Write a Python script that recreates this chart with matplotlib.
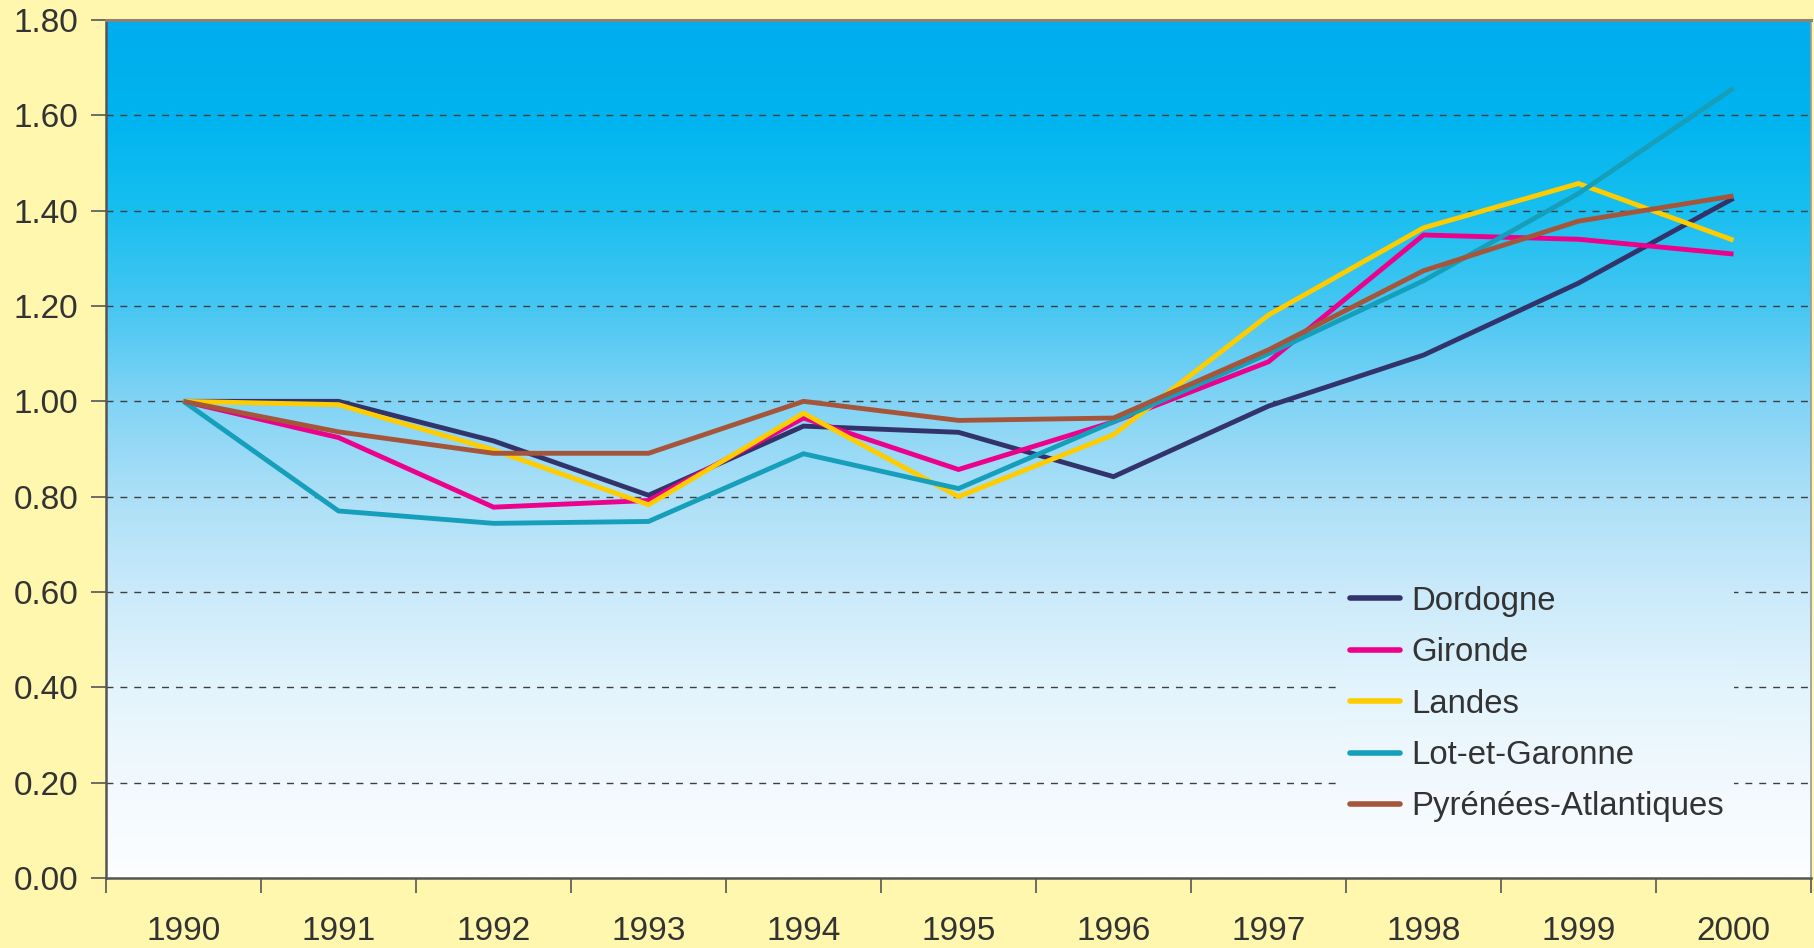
import matplotlib
matplotlib.use("Agg")
import matplotlib.pyplot as plt
import numpy as np
from matplotlib.colors import LinearSegmentedColormap
from matplotlib.patches import Rectangle

years = ["1990", "1991", "1992", "1993", "1994", "1995", "1996", "1997", "1998", "1999", "2000"]
dordogne = [1.00, 1.00, 0.917, 0.803, 0.948, 0.935, 0.842, 0.99, 1.097, 1.248, 1.426]
gironde = [1.00, 0.924, 0.778, 0.792, 0.965, 0.857, 0.957, 1.083, 1.349, 1.34, 1.309]
landes = [1.00, 0.993, 0.898, 0.783, 0.975, 0.80, 0.93, 1.181, 1.364, 1.457, 1.338]
lot_et_garonne = [1.00, 0.77, 0.744, 0.748, 0.89, 0.817, 0.957, 1.10, 1.253, 1.436, 1.657]
pyrenees = [1.00, 0.936, 0.891, 0.891, 1.00, 0.96, 0.965, 1.108, 1.274, 1.378, 1.431]

series_names = ["Dordogne", "Gironde", "Landes", "Lot-et-Garonne", "Pyrénées-Atlantiques"]
series_values = [dordogne, gironde, landes, lot_et_garonne, pyrenees]
series_colors = ["#33336B", "#EC008C", "#FFCC00", "#169FBB", "#A5563A"]
yticks = [0.0, 0.2, 0.4, 0.6, 0.8, 1.0, 1.2, 1.4, 1.6, 1.8]

plt.rcParams['font.family'] = ['Liberation Sans', 'DejaVu Sans']

fig = plt.figure(figsize=(18.14, 9.48), dpi=100, facecolor="#FFF7AE")
ax = fig.add_axes([106/1814, 1-878/948, 1705/1814, 858/948])

x = np.arange(len(years))
xlim = (-0.5, len(years) - 0.5)
ylim = (0, 1.8)

grad_cmap = LinearSegmentedColormap.from_list("bg", [
    (0.00, "#00ADEE"), (0.11, "#00B4EF"), (0.22, "#17BFF0"), (0.33, "#45C6F2"),
    (0.44, "#80D3F5"), (0.55, "#AADFF7"), (0.67, "#CBEAFA"), (0.78, "#E3F4FC"),
    (0.89, "#F2F9FE"), (1.00, "#FCFEFF")])
grad = np.linspace(0, 1, 512).reshape(-1, 1)
ax.imshow(grad, cmap=grad_cmap, aspect="auto", extent=(*xlim, *ylim),
          origin="upper", zorder=0, interpolation="bilinear")

for v in yticks[1:-1]:
    ax.axhline(v, color="#3F3F3F", lw=1.0, ls=(0, (5.0, 5.0)), zorder=1)

for name, vals, c in zip(series_names, series_values, series_colors):
    ax.plot(x, vals, color=c, lw=3.5, label=name, zorder=3,
            solid_joinstyle="miter", solid_capstyle="butt")

ax.set_xlim(*xlim)
ax.set_ylim(*ylim)

ax.set_xticks(x)
ax.set_xticklabels(years)
ax.set_xticks(np.arange(-0.5, len(years), 1), minor=True)
ax.tick_params(axis="x", which="major", length=0, pad=27, labelsize=24, labelcolor="#333333")
ax.tick_params(axis="x", which="minor", length=11, width=1.2, color="#555555", direction="out")
ax.set_yticks(yticks)
ax.set_yticklabels([f"{v:.2f}" for v in yticks])
ax.tick_params(axis="y", length=11, width=1.2, color="#555555", pad=9,
               labelsize=24, labelcolor="#333333")

for side in ["left", "bottom"]:
    ax.spines[side].set_color("#555555")
    ax.spines[side].set_linewidth(1.8)
ax.spines["top"].set_color("#8F8271")
ax.spines["top"].set_linewidth(2.2)
ax.spines["right"].set_color("#999999")
ax.spines["right"].set_linewidth(1.2)

leg = ax.legend(loc="upper left", bbox_to_anchor=(0.724, 0.352), frameon=True,
                fontsize=23.7, handlelength=1.5, handletextpad=0.35, labelspacing=0.62,
                borderpad=0.3, borderaxespad=0)
leg.get_frame().set_facecolor("none")
leg.get_frame().set_edgecolor("none")
for t in leg.get_texts():
    t.set_color("#333333")
for h in leg.legend_handles:
    h.set_linewidth(4)
    h.set_solid_capstyle("round")
leg.set_zorder(5)

fig.canvas.draw()
bb = leg.get_frame().get_window_extent()
clip = Rectangle((bb.x0, bb.y0), bb.width, bb.height, transform=None)
im2 = ax.imshow(grad, cmap=grad_cmap, aspect="auto", extent=(*xlim, *ylim),
                origin="upper", zorder=2, interpolation="bilinear")
im2.set_clip_path(clip)
ax.set_xlim(*xlim)
ax.set_ylim(*ylim)

fig.savefig("out.png", dpi=100, facecolor=fig.get_facecolor())
